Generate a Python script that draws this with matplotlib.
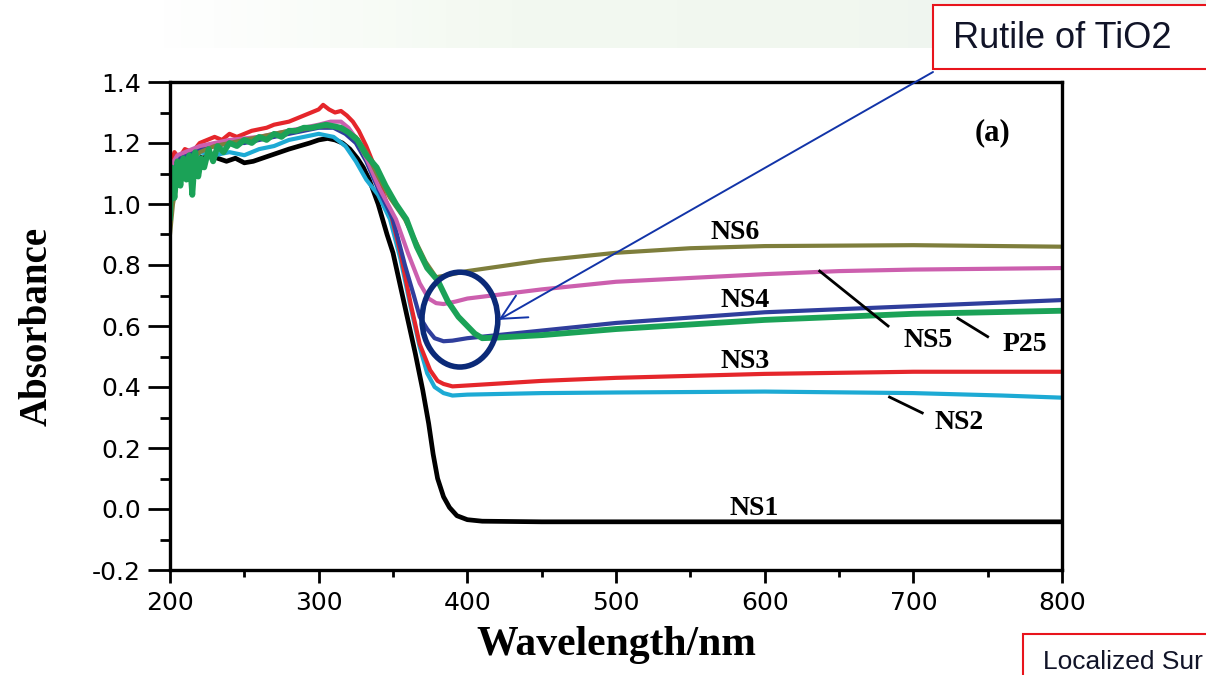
"""
UV-Vis absorbance spectra of NS1-NS6 and P25, with slide call-outs.
Saves to ./out.png
"""
import numpy as np
import matplotlib.pyplot as plt
import matplotlib.patches as mpatches
from matplotlib.colors import LinearSegmentedColormap
from matplotlib.ticker import MultipleLocator, FormatStrFormatter

# ---- data ----
NS1_WL = [200, 202, 204, 207, 210, 214, 218, 222, 227, 232, 238, 244, 250, 256, 262,
          268, 274, 280, 287, 294, 300, 306, 311, 316, 321, 326, 330, 334, 340, 346,
          350, 355, 360, 365, 370, 374, 377, 380, 384, 388, 393, 400, 410, 450, 500,
          600, 700, 800]
NS1_ABS = [0.98, 1.08, 1.12, 1.10, 1.15, 1.14, 1.16, 1.15, 1.16, 1.15, 1.14, 1.15, 1.135,
           1.14, 1.15, 1.16, 1.17, 1.18, 1.19, 1.20, 1.21, 1.215, 1.21, 1.20, 1.18, 1.15,
           1.12, 1.08, 1.00, 0.90, 0.84, 0.73, 0.62, 0.51, 0.39, 0.28, 0.18, 0.10, 0.04,
           0.005, -0.022, -0.035, -0.04, -0.042, -0.042, -0.042, -0.042, -0.042]

NS2_WL = [200, 203, 206, 210, 215, 220, 230, 240, 250, 260, 270, 280, 290, 300, 310,
          318, 325, 332, 340, 348, 355, 362, 368, 373, 378, 384, 390, 400, 450, 500,
          600, 700, 760, 800]
NS2_ABS = [1.05, 1.16, 1.12, 1.15, 1.13, 1.17, 1.16, 1.17, 1.16, 1.18, 1.19, 1.21, 1.22,
           1.23, 1.22, 1.19, 1.14, 1.08, 1.03, 0.95, 0.82, 0.66, 0.53, 0.445, 0.40, 0.38,
           0.372, 0.375, 0.38, 0.382, 0.385, 0.38, 0.372, 0.365]

NS3_WL = [200, 203, 206, 210, 215, 220, 225, 230, 235, 240, 245, 250, 255, 260, 265,
          270, 275, 280, 285, 290, 295, 300, 303, 307, 311, 315, 319, 323, 327, 332,
          337, 343, 349, 355, 362, 368, 375, 380, 384, 390, 400, 450, 500, 600, 700, 800]
NS3_ABS = [1.12, 1.17, 1.15, 1.18, 1.17, 1.20, 1.21, 1.22, 1.21, 1.23, 1.22, 1.23, 1.24,
           1.245, 1.25, 1.26, 1.265, 1.27, 1.28, 1.29, 1.30, 1.31, 1.325, 1.31, 1.30,
           1.305, 1.29, 1.27, 1.24, 1.19, 1.13, 1.04, 0.96, 0.84, 0.67, 0.54, 0.455,
           0.42, 0.41, 0.402, 0.405, 0.42, 0.43, 0.443, 0.45, 0.45]

NS4_WL = [200, 205, 210, 220, 230, 240, 250, 260, 270, 280, 290, 300, 310, 318, 325,
          332, 340, 350, 358, 364, 368, 373, 378, 384, 390, 400, 450, 500, 600, 700, 800]
NS4_ABS = [1.10, 1.15, 1.16, 1.18, 1.19, 1.20, 1.20, 1.21, 1.22, 1.23, 1.24, 1.25, 1.25,
           1.23, 1.20, 1.14, 1.05, 0.95, 0.80, 0.70, 0.63, 0.59, 0.56, 0.55, 0.552, 0.56,
           0.585, 0.61, 0.645, 0.665, 0.685]

NS5_WL = [200, 205, 210, 220, 230, 240, 250, 260, 270, 280, 290, 300, 308, 315, 320,
          326, 333, 341, 352, 360, 368, 374, 379, 384, 392, 400, 450, 500, 600, 650,
          700, 800]
NS5_ABS = [1.12, 1.16, 1.17, 1.19, 1.20, 1.21, 1.215, 1.22, 1.23, 1.24, 1.25, 1.26, 1.27,
           1.27, 1.25, 1.21, 1.14, 1.05, 0.95, 0.84, 0.74, 0.69, 0.675, 0.672, 0.68, 0.69,
           0.72, 0.745, 0.77, 0.78, 0.785, 0.79]

NS6_WL = [200, 202, 205, 210, 220, 230, 240, 250, 260, 270, 280, 290, 300, 310, 318,
          325, 332, 340, 348, 358, 365, 372, 379, 385, 400, 450, 500, 550, 600, 700, 800]
NS6_ABS = [0.90, 1.00, 1.08, 1.12, 1.17, 1.19, 1.20, 1.21, 1.22, 1.23, 1.24, 1.245, 1.255,
           1.255, 1.24, 1.22, 1.17, 1.09, 1.02, 0.95, 0.88, 0.81, 0.76, 0.765, 0.78, 0.815,
           0.84, 0.855, 0.862, 0.865, 0.86]

P25_WL = [200, 201, 203, 205, 207, 209, 211, 213, 215, 217, 219, 221, 223, 226, 229,
          232, 236, 240, 245, 250, 255, 260, 265, 270, 275, 280, 285, 290, 295, 300,
          305, 310, 315, 320, 326, 332, 339, 345, 352, 359, 366, 373, 380, 387, 394,
          400, 405, 410, 420, 450, 500, 550, 600, 650, 700, 800]
P25_ABS = [0.95, 1.12, 1.02, 1.14, 1.06, 1.15, 1.08, 1.16, 1.03, 1.17, 1.09, 1.15, 1.12,
           1.18, 1.14, 1.19, 1.17, 1.20, 1.19, 1.21, 1.20, 1.22, 1.21, 1.23, 1.22, 1.24,
           1.24, 1.25, 1.25, 1.255, 1.26, 1.255, 1.25, 1.235, 1.21, 1.16, 1.12, 1.06, 1.00,
           0.95, 0.86, 0.79, 0.75, 0.68, 0.63, 0.60, 0.575, 0.56, 0.562, 0.57, 0.59, 0.605,
           0.62, 0.63, 0.64, 0.65]

SERIES = [
    ("NS1", NS1_WL, NS1_ABS, "#000000", 3.4),
    ("NS2", NS2_WL, NS2_ABS, "#1DAAD4", 3.0),
    ("NS3", NS3_WL, NS3_ABS, "#E5262B", 3.0),
    ("NS4", NS4_WL, NS4_ABS, "#2F3E9C", 3.0),
    ("NS5", NS5_WL, NS5_ABS, "#CC5FAE", 3.0),
    ("NS6", NS6_WL, NS6_ABS, "#7E7E3C", 3.0),
    ("P25", P25_WL, P25_ABS, "#1BA257", 4.2),
]

SERIF = "Liberation Serif"
SANS = "Liberation Sans"

plt.rcParams["axes.unicode_minus"] = False

fig = plt.figure(figsize=(12.06, 6.75), dpi=100)

# slide background band at the top
band = fig.add_axes([148 / 1206, 1 - 48 / 675, 1 - 148 / 1206, 48 / 675])
band.imshow(np.linspace(0, 1, 64)[None, :], aspect="auto", extent=(0, 1, 0, 1),
            cmap=LinearSegmentedColormap.from_list(
                "band", ["#FFFFFF", "#F3F9F1", "#F1F7EF", "#EAF1EF"]))
band.axis("off")

ax = fig.add_axes([170 / 1206, 1 - 570 / 675, 892 / 1206, 488 / 675])

for name, wl, ab, col, lw in SERIES:
    ax.plot(wl, ab, color=col, lw=lw, solid_joinstyle="round", solid_capstyle="round")

ax.set_xlim(200, 800)
ax.set_ylim(-0.2, 1.4)
ax.xaxis.set_major_locator(MultipleLocator(100))
ax.xaxis.set_minor_locator(MultipleLocator(50))
ax.yaxis.set_major_locator(MultipleLocator(0.2))
ax.yaxis.set_minor_locator(MultipleLocator(0.1))
ax.yaxis.set_major_formatter(FormatStrFormatter("%.1f"))

for sp in ax.spines.values():
    sp.set_linewidth(2.4)
ax.tick_params(axis="y", which="major", direction="out", length=16, width=2, pad=5)
ax.tick_params(axis="y", which="minor", direction="out", length=7, width=2)
ax.tick_params(axis="x", which="major", direction="out", length=9, width=2, pad=6)
ax.tick_params(axis="x", which="minor", direction="out", length=5, width=2)
for lab in ax.get_xticklabels() + ax.get_yticklabels():
    lab.set_family("DejaVu Sans")
    lab.set_fontsize(18)

ax.set_xlabel("Wavelength/nm", family=SERIF, weight="bold", fontsize=30, labelpad=8)
ax.set_ylabel("Absorbance", family=SERIF, weight="bold", fontsize=28, labelpad=26)

# curve labels
lab_kw = dict(family=SERIF, weight="bold", fontsize=20, ha="center", va="center")
ax.text(580, 0.908, "NS6", **lab_kw)
ax.text(587, 0.685, "NS4", **lab_kw)
ax.text(587, 0.482, "NS3", **lab_kw)
ax.text(710, 0.554, "NS5", **lab_kw)
ax.text(775, 0.538, "P25", **lab_kw)
ax.text(731, 0.285, "NS2", **lab_kw)
ax.text(593, 0.003, "NS1", **lab_kw)
ax.text(753, 1.233, "(a)", family=SERIF, weight="bold", fontsize=22, ha="center", va="center")

# leader lines
ax.plot([637, 683], [0.78, 0.60], color="black", lw=2)
ax.plot([730, 750], [0.625, 0.565], color="black", lw=2)
ax.plot([684, 706], [0.367, 0.315], color="black", lw=2)

# highlight of the rutile shoulder
ax.add_patch(mpatches.Ellipse((395, 0.621), width=51, height=0.311, fill=False,
                              edgecolor="#0B2A78", lw=4, zorder=5))

# call-out boxes
fig.patches.append(mpatches.Rectangle((933 / 1206, 1 - 69 / 675), 0.4, 64 / 675,
                                      transform=fig.transFigure, facecolor="white",
                                      edgecolor="#E8141C", lw=1.5, zorder=3))
fig.text(953 / 1206, 1 - 39 / 675, "Rutile of TiO2", family=SANS, fontsize=26,
         color="#111428", ha="left", va="center", zorder=4)

fig.patches.append(mpatches.Rectangle((1023 / 1206, -0.05), 0.3, 0.05 + 41 / 675,
                                      transform=fig.transFigure, facecolor="white",
                                      edgecolor="#E8141C", lw=1.5, zorder=3))
fig.text(1043 / 1206, 1 - 662 / 675, "Localized Sur", family=SANS, fontsize=19,
         color="#111428", ha="left", va="center", zorder=4)

ax.annotate("", xy=(421, 0.62), xycoords="data",
            xytext=(933, 675 - 72), textcoords="figure pixels",
            arrowprops=dict(arrowstyle="->,head_length=0.9,head_width=0.45",
                            color="#1234A8", lw=1.4, mutation_scale=20,
                            shrinkA=0, shrinkB=0),
            annotation_clip=False, zorder=6)

fig.savefig("out.png", dpi=100)
